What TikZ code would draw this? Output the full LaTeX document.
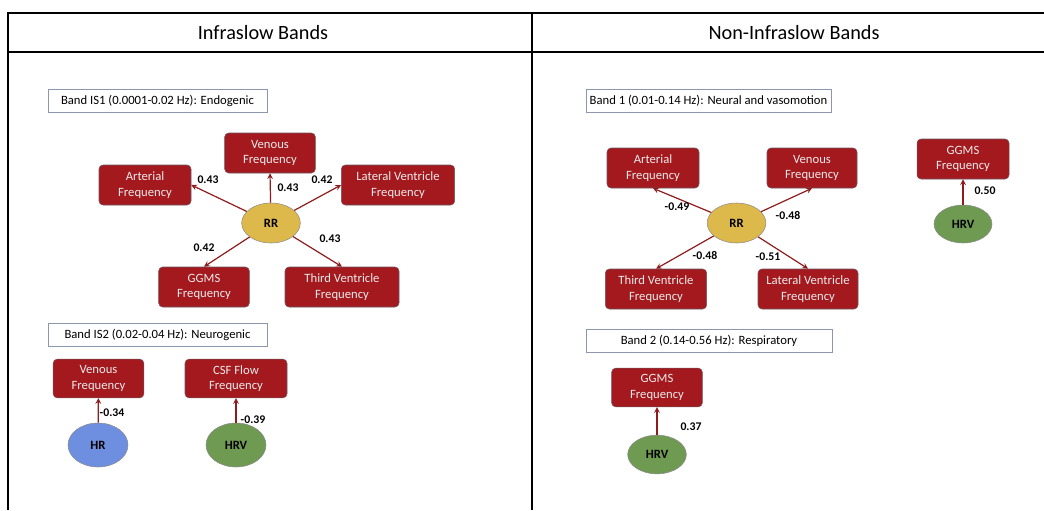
\documentclass[tikz,border=0pt]{standalone}
\usepackage{fontspec}
\setmainfont{Carlito}
\usetikzlibrary{shapes.geometric}

\definecolor{boxred}{HTML}{A3191E}
\definecolor{boxedge}{HTML}{6B5560}
\definecolor{arrred}{HTML}{8E1C1C}
\definecolor{rrgold}{HTML}{DDB84A}
\definecolor{hrblue}{HTML}{6E8FE0}
\definecolor{hrvgreen}{HTML}{6F9A52}
\definecolor{bandedge}{HTML}{8C97AC}

\begin{document}
\begin{tikzpicture}[x=0.75pt,y=-0.75pt,
  freqbox/.style={draw=boxedge,fill=boxred,rounded corners=3pt,text=white!92!black,
    align=center,font=\fontsize{9.5}{11.5}\selectfont,inner sep=1pt,minimum height=30pt},
  sigbox/.style={ellipse,draw=black!45,font=\bfseries\fontsize{9.5}{11}\selectfont,inner sep=0pt},
  bandbox/.style={draw=bandedge,fill=white,font=\fontsize{9.5}{11}\selectfont,
    inner sep=1pt,minimum height=17.5pt},
  coef/.style={font=\bfseries\fontsize{8.8}{10}\selectfont,inner sep=0pt},
  arr/.style={draw=arrred,line width=0.9pt,-stealth}]
\useasboundingbox (0,0) rectangle (1044,510);
% The table
\draw[line width=1.3pt] (8,510) -- (8,13) -- (1044,13);
\draw[line width=1.3pt] (8,52) -- (1044,52);
\draw[line width=1.3pt] (532,13) -- (532,510);
\node[font=\fontsize{15.2}{18}\selectfont] (hdleft) at (263,33) {Infraslow Bands};
\node[font=\fontsize{15.2}{18}\selectfont] (hdright) at (794,33) {Non-Infraslow Bands};

% Band IS1
\node[bandbox,minimum width=164pt] (bandis1) at (157.5,101) {Band IS1 (0.0001-0.02 Hz): Endogenic};
\node[sigbox,fill=rrgold,minimum width=44pt,minimum height=30pt] (rr1) at (271,223) {RR};
\node[freqbox,minimum width=68pt] (ven1) at (270,153) {Venous\\Frequency};
\node[freqbox,minimum width=69pt] (art1) at (145,185) {Arterial\\Frequency};
\node[freqbox,minimum width=85pt] (lat1) at (398,185) {Lateral Ventricle\\Frequency};
\node[freqbox,minimum width=68pt] (ggms1) at (204,287) {GGMS\\Frequency};
\node[freqbox,minimum width=85.5pt] (third1) at (342,287) {Third Ventricle\\Frequency};
\draw[arr] (rr1) -- (art1.east);
\draw[arr] (rr1) -- (ven1.south);
\draw[arr] (rr1) -- (lat1.west);
\draw[arr] (rr1) -- (ggms1.north);
\draw[arr] (rr1) -- (third1.north);
\node[coef] (c1) at (208,180) {0.43};
\node[coef] (c2) at (288,188) {0.43};
\node[coef] (c3) at (322,180) {0.42};
\node[coef] (c4) at (204,248) {0.42};
\node[coef] (c5) at (330,239) {0.43};

% Band IS2
\node[bandbox,minimum width=164pt] (bandis2) at (157.5,334.5) {Band IS2 (0.02-0.04 Hz): Neurogenic};
\node[freqbox,minimum width=68pt,minimum height=29pt] (ven2) at (98.5,378.5) {Venous\\Frequency};
\node[freqbox,minimum width=76.5pt,minimum height=29pt] (csf2) at (236,378.5) {CSF Flow\\Frequency};
\node[sigbox,fill=hrblue,minimum width=45pt,minimum height=33pt] (hr2) at (98,445) {HR};
\node[sigbox,fill=hrvgreen,minimum width=45pt,minimum height=33pt] (hrv2) at (236,445) {HRV};
\draw[arr] (hr2) -- (ven2);
\draw[arr] (hrv2) -- (csf2);
\node[coef] (c6) at (112,413) {-0.34};
\node[coef] (c7) at (253,420) {-0.39};

% Band 1
\node[bandbox,minimum width=184pt] (band1) at (708.5,100.5) {Band 1 (0.01-0.14 Hz): Neural and vasomotion};
\node[sigbox,fill=rrgold,minimum width=44pt,minimum height=30pt] (rr3) at (736.5,223) {RR};
\node[freqbox,minimum width=69pt] (art3) at (653,168) {Arterial\\Frequency};
\node[freqbox,minimum width=67.5pt] (ven3) at (812,168) {Venous\\Frequency};
\node[freqbox,minimum width=76pt] (third3) at (656,289) {Third Ventricle\\Frequency};
\node[freqbox,minimum width=75pt] (lat3) at (808,289) {Lateral Ventricle\\Frequency};
\draw[arr] (rr3) -- (art3.south);
\draw[arr] (rr3) -- (ven3.south);
\draw[arr] (rr3) -- (third3.north);
\draw[arr] (rr3) -- (lat3.north);
\node[coef] (c8) at (677,207) {-0.49};
\node[coef] (c9) at (788,215) {-0.48};
\node[coef] (c10) at (705,255) {-0.48};
\node[coef] (c11) at (768,257) {-0.51};

% HRV to GGMS (band 1)
\node[freqbox,minimum width=69pt] (ggms3) at (963,159) {GGMS\\Frequency};
\node[sigbox,fill=hrvgreen,minimum width=43.5pt,minimum height=28.5pt] (hrv3) at (963,224) {HRV};
\draw[arr] (hrv3) -- (ggms3);
\node[coef] (c12) at (985,191) {0.50};

% Band 2
\node[bandbox,minimum width=184.5pt] (band2) at (709,340.5) {Band 2 (0.14-0.56 Hz): Respiratory};
\node[freqbox,minimum width=68pt,minimum height=29pt] (ggms4) at (657,387.5) {GGMS\\Frequency};
\node[sigbox,fill=hrvgreen,minimum width=44pt,minimum height=29pt] (hrv4) at (657,454.5) {HRV};
\draw[arr] (hrv4) -- (ggms4);
\node[coef] (c13) at (691,427) {0.37};
\end{tikzpicture}
\end{document}
